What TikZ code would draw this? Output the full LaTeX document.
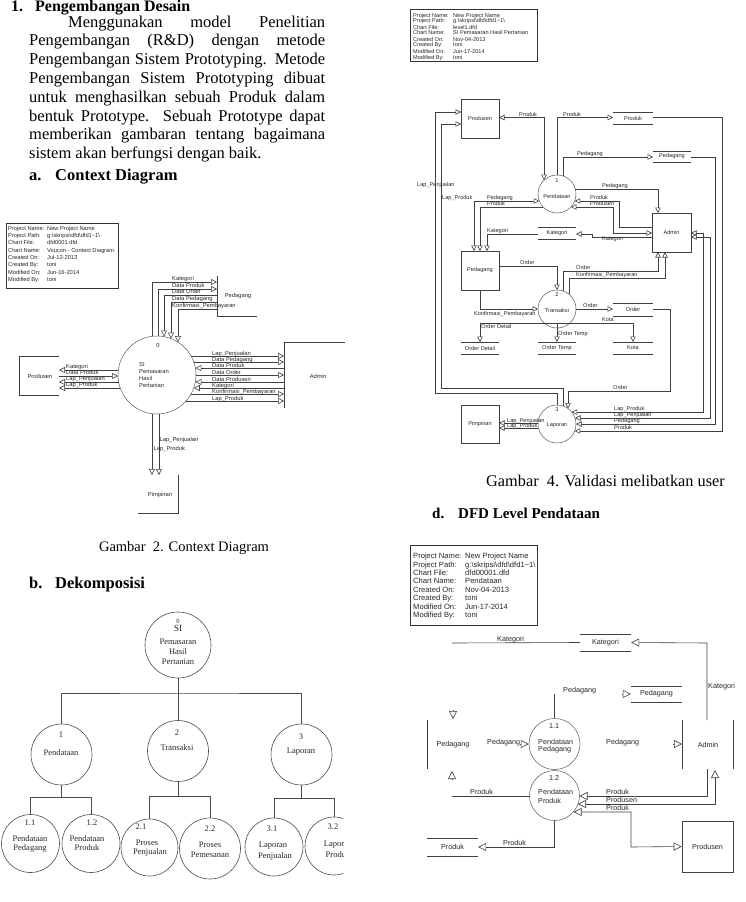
\documentclass[tikz,border=0pt]{standalone}
\usepackage{fontspec}
\setmainfont{Liberation Serif}
\setsansfont{Liberation Sans}
\usetikzlibrary{arrows.meta}

\tikzset{
  body/.style={inner sep=0pt, anchor=base west, font=\fontsize{16.5}{19}\selectfont},
  heading/.style={body, font=\fontsize{16.5}{19}\selectfont\bfseries},
  flow/.style={draw=black!75, line width=0.6pt},
  infoframe/.style={draw=black!80, line width=0.8pt},
  info/.style={inner sep=0pt, anchor=north west, text=black!85},
  lbl/.style={inner sep=0pt, anchor=base west, text=black!85, font=\fontsize{#1}{#1}\sffamily},
  lbl/.default=5.6,
  ent/.style={inner sep=0pt, text=black!85, font=\fontsize{#1}{#1}\sffamily},
  ent/.default=5.6,
  box/.style={draw=black!75, line width=0.6pt, inner sep=0pt, text=black!85, font=\fontsize{5.6}{6}\sffamily},
  proc/.style={draw=black!65, line width=0.5pt, circle, inner sep=0pt},
  dtxt/.style={inner sep=0pt, text=black!85, font=\fontsize{#1}{#1}\selectfont},
  dtxt/.default=8.5,
  branch/.style={draw=black!70, line width=0.6pt},
  into/.style={-{Triangle[open,length=#1,width=#1]}},
  into/.default=5.5pt,
  twoway/.style={{Triangle[open,length=#1,width=#1]}-{Triangle[open,length=#1,width=#1]}},
  twoway/.default=5.5pt,
}

\newcommand{\chartinfo}[5]{%
\begin{tabular}{@{}p{#1}@{}l@{}}
Project Name: & New Project Name\\
Project Path: & g:\textbackslash skripsi\textbackslash dfd\textbackslash dfd1\textasciitilde 1\textbackslash\\
Chart File: & #2\\
Chart Name: & #3\\
Created On: & #4\\
Created By: & toni\\
Modified On: & #5\\
Modified By: & toni
\end{tabular}}

\begin{document}
\begin{tikzpicture}[x=1pt,y=-1pt]
\useasboundingbox (0,0) rectangle (746,902);

% text column
\node[heading, font=\fontsize{16}{19}\selectfont\bfseries] (sec) at (11,11.3) {1.};
\node[heading, font=\fontsize{16}{19}\selectfont\bfseries] (sectitle) at (35,11.3) {Pengembangan Desain};
\node[body] (par1) at (68,27.2) {\makebox[257pt][s]{Menggunakan model Penelitian}};
\node[body] (par2) at (29,45.6) {\makebox[296pt][s]{Pengembangan (R\&D) dengan metode}};
\node[body] (par3) at (29,64.4) {\makebox[296pt][s]{Pengembangan Sistem Prototyping. Metode}};
\node[body] (par4) at (29,83.2) {\makebox[296pt][s]{Pengembangan Sistem Prototyping dibuat}};
\node[body] (par5) at (29,102.1) {\makebox[296pt][s]{untuk menghasilkan sebuah Produk dalam}};
\node[body] (par6) at (29,121) {\makebox[296pt][s]{bentuk Prototype. Sebuah Prototype dapat}};
\node[body] (par7) at (29,139.9) {\makebox[296pt][s]{memberikan gambaran tentang bagaimana}};
\node[body] (par8) at (29,158.8) {sistem akan berfungsi dengan baik.};
\node[heading] (suba) at (29,180) {a.};
\node[heading] (subatitle) at (55,180) {Context Diagram};

% context diagram
\draw[infoframe] (6,223) rectangle (118,288);
\node[info, font=\fontsize{5.7}{7.3}\sffamily] (info0) at (8,225)
  {\chartinfo{39pt}{dfd0001.dfd}{Voucon - Context Diagram}{Jul-12-2013}{Jun-16-2014}};
\node[proc, minimum size=78pt] (ctx) at (157,375) {};
\node[ent=5.8] (ctxno) at (158,345) {0};
\node[ent=5.8, anchor=west, align=left, font=\fontsize{5.8}{7.3}\sffamily] (ctxname) at (139,375) {SI\\Pemasaran\\Hasil\\Pertanian};
\draw[flow] (59,356) -- (19,356) -- (19,395) -- (59,395);
\node[ent=5.8] (cprod) at (40,376) {Produsen};
\draw[flow] (345,342) -- (284,342) -- (284,408);
\node[ent=5.8] (cadm) at (318,376) {Admin};
\draw[flow] (138,513) -- (178,513) -- (178,475);
\node[ent=5.8] (cpim) at (160,495) {Pimpinan};
\draw[flow] (217,276) -- (217,316) -- (257,316);
\node[ent=5.8] (cpdg) at (238,296) {Pedagang};

\draw[flow,into=6pt] (118.3,370) -- (59,370);
\draw[flow,into=6pt] (59,376) -- (118,376);
\draw[flow,into=6pt] (118.6,382) -- (59,382);
\draw[flow,into=6pt] (120.2,388) -- (59,388);
\node[lbl=5.8] (cl1) at (66,368) {Kategori};
\node[lbl=5.8] (cl2) at (66,374) {Data Produk};
\node[lbl=5.8] (cl3) at (66,380.5) {Lap\_Penjualan};
\node[lbl=5.8] (cl4) at (66,386.5) {Lap\_Produk};

\draw[flow,into=6pt] (191.1,356) -- (284,356);
\draw[flow,into=6pt] (193.8,362) -- (284,362);
\draw[flow,into=6pt] (284,368) -- (195.4,368);
\draw[flow,into=6pt] (196,375) -- (284,375);
\draw[flow,into=6pt] (284,382) -- (195.4,382);
\draw[flow,into=6pt] (284,388) -- (193.8,388);
\draw[flow,into=6pt] (191.1,394) -- (284,394);
\draw[flow,into=6pt] (186.1,401) -- (284,401);
\node[lbl=5.8] (cl5) at (212,355) {Lap\_Penjualan};
\node[lbl=5.8] (cl6) at (212,361) {Data Pedagang};
\node[lbl=5.8] (cl7) at (212,367) {Data Produk};
\node[lbl=5.8] (cl8) at (212,374) {Data Order};
\node[lbl=5.8] (cl9) at (212,381) {Data Produsen};
\node[lbl=5.8] (cl10) at (212,387) {Kategori};
\node[lbl=5.8] (cl11) at (212,393) {Konfirmasi\_Pembayaran};
\node[lbl=5.8] (cl12) at (212,400) {Lap\_Produk};

\draw[flow,into=6pt] (152,336.3) -- (152,282) -- (217,282);
\draw[flow,into=6pt] (158,336) -- (158,289) -- (217,289);
\draw[flow,into=6pt] (217,295) -- (164,295) -- (164,336.6);
\draw[flow,into=6pt] (217,302) -- (171,302) -- (171,338.6);
\draw[flow,into=6pt] (217,309) -- (178,309) -- (178,342.1);
\node[lbl=5.8] (cl13) at (172,280.5) {Kategori};
\node[lbl=5.8] (cl14) at (172,287.5) {Data Produk};
\node[lbl=5.8] (cl15) at (172,293.5) {Data Order};
\node[lbl=5.8] (cl16) at (172,300.5) {Data Pedagang};
\node[lbl=5.8] (cl17) at (172,307.5) {Konfirmasi\_Pembayaran};

\draw[flow,into=6pt] (152,413.7) -- (152,475);
\draw[flow,into=6pt] (159,413.9) -- (159,475);
\node[lbl=5.8] (cl18) at (159.5,441) {Lap\_Penjualan};
\node[lbl=5.8] (cl19) at (153.5,450) {Lap\_Produk};

\node[body, anchor=base, font=\fontsize{14.5}{17}\selectfont] (cap2) at (184,551) {Gambar\ \ 2. Context Diagram};

% decomposition
\node[heading] (subb) at (29,588) {b.};
\node[heading] (subbtitle) at (55,588) {Dekomposisi};
\node[proc, draw=black!70, line width=0.6pt, minimum size=66pt] (d0) at (178,645) {};
\node[dtxt=6.5] (d0a) at (178,621) {0};
\node[dtxt=9.5] (d0b) at (178,628.5) {SI};
\node[dtxt] (d0c) at (178,642) {Pemasaran};
\node[dtxt] (d0d) at (178,652) {Hasil};
\node[dtxt] (d0e) at (178,662) {Pertanian};

\node[proc, draw=black!70, line width=0.6pt, minimum size=61pt] (d1) at (61.5,754.5) {};
\node[proc, draw=black!70, line width=0.6pt, minimum size=61pt] (d2) at (178,751) {};
\node[proc, draw=black!70, line width=0.6pt, minimum size=61pt] (d3) at (301.5,754.5) {};
\node[dtxt] (d1a) at (61,735) {1};
\node[dtxt] (d1b) at (61,753) {Pendataan};
\node[dtxt] (d2a) at (177,733) {2};
\node[dtxt] (d2b) at (177,748) {Transaksi};
\node[dtxt] (d3a) at (301,737) {3};
\node[dtxt] (d3b) at (301,752) {Laporan};
\coordinate (bar0) at (178,693);
\draw[branch] (d0.south) -- (d2.north);
\draw[branch] (d1.north) |- (bar0) -| (d3.north);

\node[proc, draw=black!70, line width=0.6pt, minimum size=58pt] (d11) at (30.5,843.5) {};
\node[proc, draw=black!70, line width=0.6pt, minimum size=58pt] (d12) at (91,843.5) {};
\node[proc, draw=black!70, line width=0.6pt, minimum size=57pt] (d21) at (149.5,847.5) {};
\node[proc, draw=black!70, line width=0.6pt, minimum size=61pt] (d22) at (210,848.5) {};
\node[proc, draw=black!70, line width=0.6pt, minimum size=58pt] (d31) at (274,847) {};
\begin{scope}
\clip (0,0) rectangle (343,902);
\node[proc, draw=black!70, line width=0.6pt, minimum size=58pt] (d32) at (334,846) {};
\node[dtxt] (d32a) at (333,827) {3.2};
\node[dtxt] (d32b) at (338,845) {Laporan};
\node[dtxt] (d32c) at (338,855) {Produk};
\end{scope}
\coordinate (bar1) at (61.5,797);
\coordinate (bar2) at (178,796);
\coordinate (bar3) at (301.5,798);
\draw[branch] (d1.south) -- (bar1);
\draw[branch] (d11.north) |- (bar1) -| (d12.north);
\draw[branch] (d2.south) -- (bar2);
\draw[branch] (d21.north) |- (bar2) -| (d22.north);
\draw[branch] (d3.south) -- (bar3);
\draw[branch] (d31.north) |- (bar3) -| (d32.north);
\node[dtxt] (d11a) at (30,823) {1.1};
\node[dtxt] (d11b) at (30,839) {Pendataan};
\node[dtxt] (d11c) at (30,848) {Pedagang};
\node[dtxt] (d12a) at (92,823) {1.2};
\node[dtxt] (d12b) at (87,839) {Pendataan};
\node[dtxt] (d12c) at (87,848) {Produk};
\node[dtxt] (d21a) at (141,827) {2.1};
\node[dtxt] (d21b) at (147,843) {Proses};
\node[dtxt] (d21c) at (150,852) {Penjualan};
\node[dtxt] (d22a) at (210,829) {2.2};
\node[dtxt] (d22b) at (210,845) {Proses};
\node[dtxt] (d22c) at (210,855) {Pemesanan};
\node[dtxt] (d31a) at (272,829) {3.1};
\node[dtxt] (d31b) at (273,846) {Laporan};
\node[dtxt] (d31c) at (275,856) {Penjualan};

% level 1 diagram
\draw[infoframe] (410,9) rectangle (537,61);
\node[info, font=\fontsize{5.6}{6}\sffamily] (info1) at (413,12.6)
  {\chartinfo{40pt}{level1.dfd}{SI Pemasaran Hasil Pertanian}{Nov-04-2013}{Jun-17-2014}};
\node[box, minimum width=38pt, minimum height=39pt] (rprod) at (480,118.5) {Produsen};
\node[box, minimum width=38pt, minimum height=39pt] (rpdg) at (480,270.5) {Pedagang};
\node[box, minimum width=39pt, minimum height=39pt] (radm) at (671.5,232.5) {Admin};
\node[box, minimum width=38pt, minimum height=38pt] (rpim) at (480,424) {Pimpinan};
\node[proc, minimum size=38pt] (r1) at (557,194) {};
\node[proc, minimum size=38pt] (r2) at (557,309) {};
\node[proc, minimum size=38pt] (r3) at (557,424) {};
\node[ent] (r1a) at (557,181) {1};
\node[ent] (r1b) at (557,196) {Pendataan};
\node[ent] (r2a) at (557,295) {2};
\node[ent] (r2b) at (557,310) {Transaksi};
\node[ent] (r3a) at (557,410) {3};
\node[ent] (r3b) at (557,425) {Laporan};

\node[ent, minimum width=40pt, minimum height=12pt] (sprod) at (633,118) {Produk};
\node[ent, minimum width=38pt, minimum height=11pt] (spdg) at (672,156.5) {Pedagang};
\node[ent, minimum width=38pt, minimum height=12pt] (skat) at (557,233) {Kategori};
\node[ent, minimum width=40pt, minimum height=13pt] (sord) at (633,309.5) {Order};
\node[ent, minimum width=38pt, minimum height=12pt] (sodet) at (480,348) {Order Detail};
\node[ent, minimum width=38pt, minimum height=12pt] (sotmp) at (557,348) {Order Temp};
\node[ent, minimum width=40pt, minimum height=12pt] (skota) at (633,348) {Kota};
\draw[flow] (sprod.north west) -- (sprod.north east) (sprod.south west) -- (sprod.south east);
\draw[flow] (spdg.north west) -- (spdg.north east) (spdg.south west) -- (spdg.south east);
\draw[flow] (skat.north west) -- (skat.north east) (skat.south west) -- (skat.south east);
\draw[flow] (sord.north west) -- (sord.north east) (sord.south west) -- (sord.south east);
\draw[flow] (sodet.north west) -- (sodet.north east) (sodet.south west) -- (sodet.south east);
\draw[flow] (sotmp.north west) -- (sotmp.north east) (sotmp.south west) -- (sotmp.south east);
\draw[flow] (skota.north west) -- (skota.north east) (skota.south west) -- (skota.south east);

\draw[flow,twoway] (499,117.5) -- (544,117.5) -- (544,180.1);
\draw[flow,into] (557,175) -- (557,117.5) -- (613,117.5);
\draw[flow,into] (653,117.5) -- (722,117.5) -- (722,431) -- (574.7,431);
\draw[flow,into] (563,176) -- (563,157) -- (653,157);
\draw[flow,into] (691,157) -- (715,157) -- (715,424) -- (576,424);
\draw[flow,twoway] (691,233) -- (703,233) -- (703,412) -- (571.7,412);
\draw[flow,twoway] (691,237) -- (710,237) -- (710,418) -- (575,418);
\draw[flow,into] (653,309) -- (670,309) -- (670,391) -- (568,391) -- (568,408.5);
\draw[flow,into] (557,405) -- (557,393) -- (435,393) -- (435,112) -- (461,112);
\draw[flow,into] (563,406.1) -- (563,388) -- (441,388) -- (441,124) -- (461,124);

\draw[flow,into] (652,227) -- (619,227) -- (619,201) -- (574.7,201);
\draw[flow,twoway] (570.9,207) -- (613,207) -- (613,233) -- (652,233);
\draw[flow,into] (575.3,189) -- (658,189) -- (658,213);
\draw[flow,into] (652,237) -- (592,237) -- (592,234) -- (576,234);

\draw[flow,twoway] (474,251) -- (474,201) -- (539.3,201);
\draw[flow,into] (543.1,207) -- (480,207) -- (480,251);
\draw[flow,into] (538,234) -- (487,234) -- (487,251);
\draw[flow,into] (499,266) -- (557,266) -- (557,290);
\draw[flow,into] (563,291) -- (563,271) -- (658,271) -- (658,252);
\draw[flow,into] (569,294.3) -- (569,278) -- (665,278) -- (665,252);
\draw[flow,into] (480,290) -- (480,309) -- (538,309);
\draw[flow,into] (576,309) -- (613,309);
\draw[flow] (480,323) -- (633,323);
\draw[flow,into] (480,323) -- (480,342);
\draw[flow,into] (557,323) -- (557,342);
\draw[flow,into] (633,323) -- (633,342);
\draw[flow,into] (538,423) -- (499,423);
\draw[flow,into] (538.4,428) -- (499,428);

\node[lbl] (rl1) at (519,116) {Produk};
\node[lbl] (rl2) at (563,116) {Produk};
\node[lbl] (rl3) at (577,155.5) {Pedagang};
\node[lbl] (rl4) at (417,186.5) {Lap\_Penjualan};
\node[lbl] (rl5) at (442,199.5) {Lap\_Produk};
\node[lbl] (rl6) at (602,187) {Pedagang};
\node[lbl] (rl7) at (487,199.5) {Pedagang};
\node[lbl] (rl8) at (487,205.5) {Produk};
\node[lbl] (rl9) at (590,199.5) {Produk};
\node[lbl] (rl10) at (590,205.5) {Produsen};
\node[lbl] (rl11) at (487,232) {Kategori};
\node[lbl] (rl12) at (602,240) {Kategori};
\node[lbl] (rl13) at (520,264) {Order};
\node[lbl] (rl14) at (576,269.5) {Order};
\node[lbl] (rl15) at (576,276.5) {Konfirmasi\_Pembayaran};
\node[lbl] (rl16) at (474,315) {Konfirmasi\_Pembayaran};
\node[lbl] (rl17) at (583,307.5) {Order};
\node[lbl] (rl18) at (602,321.5) {Kota};
\node[lbl] (rl19) at (481,328.5) {Order Detail};
\node[lbl] (rl20) at (558,335) {Order Temp};
\node[lbl] (rl21) at (613,389.5) {Order};
\node[lbl] (rl22) at (614,410.5) {Lap\_Produk};
\node[lbl] (rl23) at (614,416.5) {Lap\_Penjualan};
\node[lbl] (rl24) at (614,422.5) {Pedagang};
\node[lbl] (rl25) at (614,429.5) {Produk};
\node[lbl] (rl26) at (507,422.5) {Lap\_Penjualan};
\node[lbl] (rl27) at (507,427.5) {Lap\_Produk};

\node[body, font=\fontsize{16.3}{19}\selectfont] (cap4) at (486,486) {Gambar\ \ 4. Validasi melibatkan user};

% level pendataan
\node[heading, font=\fontsize{15}{18}\selectfont\bfseries] (subd) at (432,518) {d.};
\node[heading, font=\fontsize{15}{18}\selectfont\bfseries] (subdtitle) at (458,518) {DFD Level Pendataan};
\draw[infoframe] (410,545) rectangle (537,625);
\node[info, font=\fontsize{7.6}{8.4}\sffamily] (info2) at (413,552.6)
  {\chartinfo{52pt}{dfd00001.dfd}{Pendataan}{Nov-04-2013}{Jun-17-2014}};

\node[proc, minimum size=51pt] (q1) at (554.5,744) {};
\node[proc, minimum size=50pt] (q2) at (554.5,795.5) {};
\node[ent=7.2] (q1a) at (554,726) {1.1};
\node[ent=7.2, anchor=west] (q1b) at (538,742) {Pendataan};
\node[ent=7.2, anchor=west] (q1c) at (538,749.5) {Pedagang};
\node[ent=7.2] (q2a) at (554,778) {1.2};
\node[ent=7.2, anchor=west] (q2b) at (538,792) {Pendataan};
\node[ent=7.2, anchor=west] (q2c) at (538,800.5) {Produk};

\node[ent=7.2, minimum width=51pt, minimum height=17pt] (bkat) at (605.5,642.5) {Kategori};
\node[ent=7.2, minimum width=51pt, minimum height=16pt] (bpdg) at (656.5,694) {Pedagang};
\node[ent=7.2, minimum width=51pt, minimum height=18pt] (bprod) at (452.5,847) {Produk};
\draw[flow] (bkat.north west) -- (bkat.north east) (bkat.south west) -- (bkat.south east);
\draw[flow] (bpdg.north west) -- (bpdg.north east) (bpdg.south west) -- (bpdg.south east);
\draw[flow] (bprod.north west) -- (bprod.north east) (bprod.south west) -- (bprod.south east);

\draw[flow] (427,720) -- (427,769);
\node[ent=7.2] (bepdg) at (453,745) {Pedagang};
\draw[flow] (682,720) -- (682,769) (733,720) -- (733,769);
\node[ent=7.2] (beadm) at (708,745) {Admin};
\node[box, font=\fontsize{7.2}{8}\sffamily, minimum width=51pt, minimum height=51pt] (beprod) at (707.5,846.5) {Produsen};

\draw[flow] (452,643) -- (bkat.west);
\draw[flow,into=8pt] (707,720) -- (707,643) -- (bkat.east);
\draw[flow] (q1.north) -- (554.5,694);
\draw[flow,into=8pt] (622,694) -- (bpdg.west);
\draw[flow,into=8pt] (453,710) -- (453,719);
\draw[flow,into=8pt] (452,780) -- (452,771);
\draw[flow,into=8pt] (520,744) -- (q1.west);
\draw[flow,into=8pt] (673,744) -- (682,744);
\draw[flow] (452,796) -- (529.5,796);
\draw[flow,into=8pt] (707,769) -- (707,796) -- (579.5,796);
\draw[flow,twoway=8pt] (578,804) -- (715,804) -- (715,770);
\draw[flow,twoway=8pt] (573.5,812) -- (631,812) -- (631,847) -- (beprod.west);
\draw[flow,into=8pt] (q2.south) -- (554.5,847) -- (bprod.east);

\node[lbl=7.2] (bl1) at (497,641) {Kategori};
\node[lbl=7.2] (bl2) at (708,688.5) {Kategori};
\node[lbl=7.2] (bl3) at (563,692) {Pedagang};
\node[lbl=7.2] (bl4) at (487,744) {Pedagang};
\node[lbl=7.2] (bl5) at (606,744) {Pedagang};
\node[lbl=7.2] (bl6) at (470,794) {Produk};
\node[lbl=7.2] (bl7) at (606,794) {Produk};
\node[lbl=7.2] (bl8) at (606,802.5) {Produsen};
\node[lbl=7.2] (bl9) at (606,810.5) {Produk};
\node[lbl=7.2] (bl10) at (503,845.5) {Produk};
\end{tikzpicture}
\end{document}
